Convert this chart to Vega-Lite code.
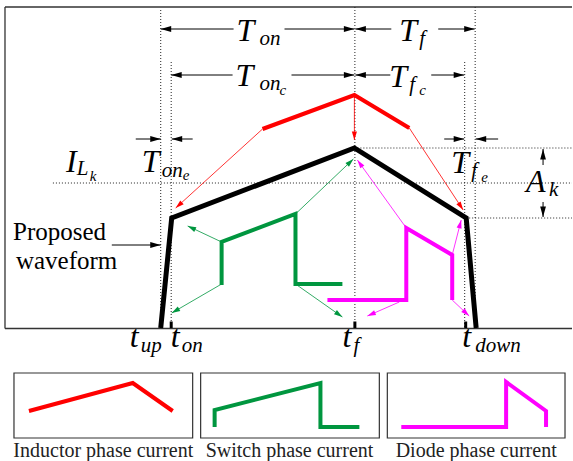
{
 "$schema": "https://vega.github.io/schema/vega-lite/v6.json",
 "width": 573,
 "height": 461,
 "autosize": {"type": "fit", "contains": "padding"},
 "padding": 0,
 "background": "white",
 "config": {"view": {"stroke": null}},
 "datasets": {
  "frame": [
   {"x1": 5, "y1": 7, "x2": 573, "y2": 7},
   {"x1": 5, "y1": 7, "x2": 5, "y2": 328.5},
   {"x1": 5, "y1": 328.5, "x2": 573, "y2": 328.5}
  ],
  "dotted": [
   {"x1": 161, "y1": 10, "x2": 161, "y2": 328},
   {"x1": 171.5, "y1": 62, "x2": 171.5, "y2": 328},
   {"x1": 355.5, "y1": 7, "x2": 355.5, "y2": 328},
   {"x1": 465.5, "y1": 62, "x2": 465.5, "y2": 328},
   {"x1": 476, "y1": 7, "x2": 476, "y2": 328},
   {"x1": 53, "y1": 183, "x2": 573, "y2": 183},
   {"x1": 355, "y1": 148, "x2": 573, "y2": 148},
   {"x1": 470, "y1": 218, "x2": 573, "y2": 218}
  ],
  "wave": [
   {"x": 161, "y": 328}, {"x": 172, "y": 218}, {"x": 355, "y": 148}, {"x": 467, "y": 218}, {"x": 477, "y": 328}
  ],
  "curves": [
   {"id": "ind-main", "g": "ind", "x": 263, "y": 129},
   {"id": "ind-main", "g": "ind", "x": 355, "y": 95},
   {"id": "ind-main", "g": "ind", "x": 410, "y": 128},
   {"id": "sw-main", "g": "sw", "x": 222, "y": 285},
   {"id": "sw-main", "g": "sw", "x": 222, "y": 242},
   {"id": "sw-main", "g": "sw", "x": 296, "y": 214},
   {"id": "sw-main", "g": "sw", "x": 296, "y": 284},
   {"id": "sw-main", "g": "sw", "x": 343, "y": 284},
   {"id": "di-main", "g": "di", "x": 328, "y": 300},
   {"id": "di-main", "g": "di", "x": 407, "y": 300},
   {"id": "di-main", "g": "di", "x": 407, "y": 228},
   {"id": "di-main", "g": "di", "x": 453, "y": 255},
   {"id": "di-main", "g": "di", "x": 453, "y": 300},
   {"id": "ind-leg", "g": "ind", "x": 29, "y": 411},
   {"id": "ind-leg", "g": "ind", "x": 133, "y": 383},
   {"id": "ind-leg", "g": "ind", "x": 173, "y": 411},
   {"id": "sw-leg", "g": "sw", "x": 215, "y": 427},
   {"id": "sw-leg", "g": "sw", "x": 215, "y": 410},
   {"id": "sw-leg", "g": "sw", "x": 321, "y": 383},
   {"id": "sw-leg", "g": "sw", "x": 321, "y": 427},
   {"id": "sw-leg", "g": "sw", "x": 360, "y": 427},
   {"id": "di-leg", "g": "di", "x": 402, "y": 427},
   {"id": "di-leg", "g": "di", "x": 507, "y": 427},
   {"id": "di-leg", "g": "di", "x": 507, "y": 382},
   {"id": "di-leg", "g": "di", "x": 547, "y": 411},
   {"id": "di-leg", "g": "di", "x": 547, "y": 427}
  ],
  "dimArrows": [
   {"x1": 234, "y1": 29, "x2": 161, "y2": 29},
   {"x1": 285, "y1": 29, "x2": 355, "y2": 29},
   {"x1": 392, "y1": 29, "x2": 356, "y2": 29},
   {"x1": 439, "y1": 29, "x2": 475.5, "y2": 29},
   {"x1": 233, "y1": 75, "x2": 171.5, "y2": 75},
   {"x1": 292, "y1": 75, "x2": 355, "y2": 75},
   {"x1": 391, "y1": 75, "x2": 356, "y2": 75},
   {"x1": 432, "y1": 75, "x2": 465, "y2": 75},
   {"x1": 136, "y1": 139, "x2": 161, "y2": 139},
   {"x1": 193, "y1": 139, "x2": 172, "y2": 139},
   {"x1": 445, "y1": 139, "x2": 465, "y2": 139},
   {"x1": 499, "y1": 139, "x2": 476.5, "y2": 139},
   {"x1": 544, "y1": 165, "x2": 544, "y2": 149},
   {"x1": 544, "y1": 202, "x2": 544, "y2": 217},
   {"x1": 112, "y1": 245, "x2": 161, "y2": 245}
  ],
  "colArrows": [
   {"g": "ind", "x1": 263, "y1": 129, "x2": 176, "y2": 208},
   {"g": "ind", "x1": 355, "y1": 95, "x2": 355, "y2": 140},
   {"g": "ind", "x1": 410, "y1": 128, "x2": 464, "y2": 210},
   {"g": "sw", "x1": 222, "y1": 242, "x2": 188, "y2": 226},
   {"g": "sw", "x1": 222, "y1": 284, "x2": 172, "y2": 313},
   {"g": "sw", "x1": 296, "y1": 214, "x2": 354, "y2": 159},
   {"g": "sw", "x1": 296, "y1": 284, "x2": 343, "y2": 317},
   {"g": "di", "x1": 407, "y1": 228, "x2": 358, "y2": 160},
   {"g": "di", "x1": 400, "y1": 302, "x2": 368, "y2": 316},
   {"g": "di", "x1": 453, "y1": 255, "x2": 462, "y2": 220},
   {"g": "di", "x1": 453, "y1": 300, "x2": 470, "y2": 316}
  ],
  "ticks": [
   {"x1": 171.5, "y1": 321.5, "y2": 328},
   {"x1": 355.5, "y1": 321.5, "y2": 328},
   {"x1": 466.5, "y1": 321.5, "y2": 328}
  ],
  "boxes": [
   {"x1": 14, "y1": 373, "x2": 193, "y2": 438},
   {"x1": 201, "y1": 373, "x2": 380, "y2": 438},
   {"x1": 388, "y1": 373, "x2": 566, "y2": 438}
  ],
  "mainText": [
   {"t": "T", "x": 237, "y": 41},
   {"t": "T", "x": 236, "y": 86},
   {"t": "T", "x": 400, "y": 41},
   {"t": "T", "x": 390, "y": 87},
   {"t": "T", "x": 142, "y": 172},
   {"t": "I", "x": 66, "y": 172},
   {"t": "T", "x": 452, "y": 173},
   {"t": "A", "x": 527, "y": 192},
   {"t": "t", "x": 130, "y": 347},
   {"t": "t", "x": 171, "y": 347},
   {"t": "t", "x": 343, "y": 347},
   {"t": "t", "x": 463, "y": 347}
  ],
  "subText": [
   {"t": "on", "x": 260, "y": 45},
   {"t": "on", "x": 260, "y": 90},
   {"t": "f", "x": 420, "y": 45},
   {"t": "f", "x": 410, "y": 91},
   {"t": "on", "x": 162, "y": 177},
   {"t": "L", "x": 77, "y": 175},
   {"t": "f", "x": 472, "y": 177},
   {"t": "k", "x": 550, "y": 196},
   {"t": "up", "x": 141, "y": 352},
   {"t": "on", "x": 182, "y": 352},
   {"t": "f", "x": 354, "y": 352},
   {"t": "down", "x": 476, "y": 352}
  ],
  "subsubText": [
   {"t": "c", "x": 280, "y": 95},
   {"t": "c", "x": 420, "y": 95},
   {"t": "e", "x": 183, "y": 180},
   {"t": "k", "x": 90, "y": 181},
   {"t": "e", "x": 482, "y": 182}
  ],
  "labelText": [
   {"t": "Proposed", "x": 13, "y": 240},
   {"t": "waveform", "x": 16, "y": 269}
  ],
  "legendText": [
   {"t": "Inductor phase current", "x": 103.5, "y": 457},
   {"t": "Switch phase current", "x": 290, "y": 457},
   {"t": "Diode phase current", "x": 477, "y": 457}
  ]
 },
 "layer": [
  {
   "data": {"name": "frame"},
   "mark": {"type": "rule", "color": "#333", "strokeWidth": 1.3},
   "encoding": {
    "x": {"field": "x1", "type": "quantitative", "scale": {"domain": [0, 573], "nice": false, "zero": false}, "axis": null},
    "y": {"field": "y1", "type": "quantitative", "scale": {"domain": [0, 461], "nice": false, "zero": false, "reverse": true}, "axis": null},
    "x2": {"field": "x2"},
    "y2": {"field": "y2"}
   }
  },
  {
   "data": {"name": "dotted"},
   "mark": {"type": "rule", "color": "#222", "strokeWidth": 1, "strokeDash": [1, 2]},
   "encoding": {
    "x": {"field": "x1", "type": "quantitative", "axis": null},
    "y": {"field": "y1", "type": "quantitative", "axis": null},
    "x2": {"field": "x2"},
    "y2": {"field": "y2"}
   }
  },
  {
   "data": {"name": "boxes"},
   "mark": {"type": "rect", "fill": null, "fillOpacity": 0, "stroke": "#333", "strokeWidth": 1.2},
   "encoding": {
    "x": {"field": "x1", "type": "quantitative", "axis": null},
    "y": {"field": "y1", "type": "quantitative", "axis": null},
    "x2": {"field": "x2"},
    "y2": {"field": "y2"}
   }
  },
  {
   "data": {"name": "colArrows"},
   "mark": {"type": "rule", "strokeWidth": 0.8},
   "encoding": {
    "x": {"field": "x1", "type": "quantitative", "axis": null},
    "y": {"field": "y1", "type": "quantitative", "axis": null},
    "x2": {"field": "x2"},
    "y2": {"field": "y2"},
    "color": {"field": "g", "type": "nominal", "scale": {"domain": ["ind", "sw", "di"], "range": ["#ff0000", "#00963f", "#ff00ff"]}, "legend": null}
   }
  },
  {
   "data": {"name": "colArrows"},
   "transform": [{"calculate": "atan2(datum.x2 - datum.x1, datum.y1 - datum.y2) * 180 / PI", "as": "ang"}],
   "mark": {"type": "point", "shape": "M0,0L0.6,2L-0.6,2Z", "filled": true, "opacity": 1, "size": 72, "strokeWidth": 0},
   "encoding": {
    "x": {"field": "x2", "type": "quantitative", "axis": null},
    "y": {"field": "y2", "type": "quantitative", "axis": null},
    "angle": {"field": "ang", "type": "quantitative", "scale": null},
    "color": {"field": "g", "type": "nominal", "legend": null}
   }
  },
  {
   "data": {"name": "dimArrows"},
   "mark": {"type": "rule", "color": "black", "strokeWidth": 1},
   "encoding": {
    "x": {"field": "x1", "type": "quantitative", "axis": null},
    "y": {"field": "y1", "type": "quantitative", "axis": null},
    "x2": {"field": "x2"},
    "y2": {"field": "y2"}
   }
  },
  {
   "data": {"name": "dimArrows"},
   "transform": [{"calculate": "atan2(datum.x2 - datum.x1, datum.y1 - datum.y2) * 180 / PI", "as": "ang"}],
   "mark": {"type": "point", "shape": "M0,0L0.55,2L-0.55,2Z", "filled": true, "opacity": 1, "color": "black", "size": 110, "strokeWidth": 0},
   "encoding": {
    "x": {"field": "x2", "type": "quantitative", "axis": null},
    "y": {"field": "y2", "type": "quantitative", "axis": null},
    "angle": {"field": "ang", "type": "quantitative", "scale": null}
   }
  },
  {
   "data": {"name": "curves"},
   "mark": {"type": "line", "strokeWidth": 4, "strokeJoin": "miter", "strokeCap": "butt"},
   "encoding": {
    "x": {"field": "x", "type": "quantitative", "axis": null},
    "y": {"field": "y", "type": "quantitative", "axis": null},
    "detail": {"field": "id"},
    "order": {"value": null},
    "color": {"field": "g", "type": "nominal", "legend": null}
   }
  },
  {
   "data": {"name": "wave"},
   "mark": {"type": "line", "color": "black", "strokeWidth": 5, "strokeJoin": "miter", "strokeCap": "butt"},
   "encoding": {
    "x": {"field": "x", "type": "quantitative", "axis": null},
    "y": {"field": "y", "type": "quantitative", "axis": null},
    "order": {"value": null}
   }
  },
  {
   "data": {"name": "ticks"},
   "mark": {"type": "rule", "color": "black", "strokeWidth": 3},
   "encoding": {
    "x": {"field": "x1", "type": "quantitative", "axis": null},
    "y": {"field": "y1", "type": "quantitative", "axis": null},
    "y2": {"field": "y2"}
   }
  },
  {
   "data": {"name": "mainText"},
   "mark": {"type": "text", "font": "Liberation Serif", "fontStyle": "italic", "fontSize": 32, "align": "left", "baseline": "alphabetic", "color": "black"},
   "encoding": {
    "x": {"field": "x", "type": "quantitative", "axis": null},
    "y": {"field": "y", "type": "quantitative", "axis": null},
    "text": {"field": "t"}
   }
  },
  {
   "data": {"name": "subText"},
   "mark": {"type": "text", "font": "Liberation Serif", "fontStyle": "italic", "fontSize": 21, "align": "left", "baseline": "alphabetic", "color": "black"},
   "encoding": {
    "x": {"field": "x", "type": "quantitative", "axis": null},
    "y": {"field": "y", "type": "quantitative", "axis": null},
    "text": {"field": "t"}
   }
  },
  {
   "data": {"name": "subsubText"},
   "mark": {"type": "text", "font": "Liberation Serif", "fontStyle": "italic", "fontSize": 15, "align": "left", "baseline": "alphabetic", "color": "black"},
   "encoding": {
    "x": {"field": "x", "type": "quantitative", "axis": null},
    "y": {"field": "y", "type": "quantitative", "axis": null},
    "text": {"field": "t"}
   }
  },
  {
   "data": {"name": "labelText"},
   "mark": {"type": "text", "font": "Liberation Serif", "fontSize": 25, "align": "left", "baseline": "alphabetic", "color": "black"},
   "encoding": {
    "x": {"field": "x", "type": "quantitative", "axis": null},
    "y": {"field": "y", "type": "quantitative", "axis": null},
    "text": {"field": "t"}
   }
  },
  {
   "data": {"name": "legendText"},
   "mark": {"type": "text", "font": "Liberation Serif", "fontSize": 20, "align": "center", "baseline": "alphabetic", "color": "#222"},
   "encoding": {
    "x": {"field": "x", "type": "quantitative", "axis": null},
    "y": {"field": "y", "type": "quantitative", "axis": null},
    "text": {"field": "t"}
   }
  }
 ]
}
